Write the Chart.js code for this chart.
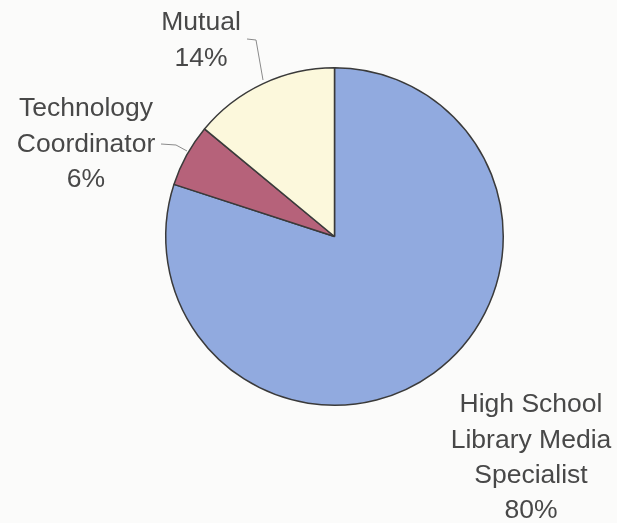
<!DOCTYPE html>
<html>
<head>
<meta charset="utf-8">
<script src="https://cdn.jsdelivr.net/npm/chart.js@4/dist/chart.umd.min.js"></script>
<style>
  html, body { margin: 0; padding: 0; background: #fbfbfa; }
  #wrap { width: 617px; height: 523px; position: relative; }
</style>
</head>
<body>
<div id="wrap"><canvas id="roleChart"></canvas></div>
<script>
// Share of respondents by role
const roles = ['High School Library Media Specialist', 'Technology Coordinator', 'Mutual'];
const percents = [80, 6, 14];
const sliceColors = ['#91aadf', '#b6627a', '#fcf8dc'];

// label text lines and where each block sits, plus leader line points
const labelLines = [
  ['High School', 'Library Media', 'Specialist', '80%'],
  ['Technology', 'Coordinator', '6%'],
  ['Mutual', '14%']
];
const labelPos = [
  { x: 531, y: 405, leader: null },
  { x: 86, y: 109, leader: [[161, 144], [176, 145], [187, 151]] },
  { x: 201, y: 23, leader: [[247, 39], [256, 40], [263, 80]] }
];

const pieLabels = {
  id: 'pieLabels',
  afterDatasetsDraw(chart) {
    const ctx = chart.ctx;
    ctx.save();
    ctx.font = '26.5px "Liberation Sans", Arial, sans-serif';
    ctx.fillStyle = '#484848';
    ctx.textAlign = 'center';
    ctx.textBaseline = 'middle';
    labelLines.forEach((lines, i) => {
      const p = labelPos[i];
      lines.forEach((t, j) => ctx.fillText(t, p.x, p.y + j * 35.3));
      if (p.leader) {
        ctx.beginPath();
        ctx.strokeStyle = '#8a8a8a';
        ctx.lineWidth = 1;
        p.leader.forEach((pt, k) => k ? ctx.lineTo(pt[0], pt[1]) : ctx.moveTo(pt[0], pt[1]));
        ctx.stroke();
      }
    });
    ctx.restore();
  }
};

new Chart(document.getElementById('roleChart'), {
  type: 'pie',
  data: {
    labels: roles,
    datasets: [{
      data: percents,
      backgroundColor: sliceColors,
      borderColor: '#3a3a3a',
      borderWidth: 1.5
    }]
  },
  options: {
    responsive: true,
    maintainAspectRatio: false,
    animation: false,
    layout: { padding: { top: 67, bottom: 117, left: 165, right: 113 } },
    plugins: {
      legend: { display: false },
      tooltip: { enabled: false }
    }
  },
  plugins: [pieLabels]
});
</script>
</body>
</html>
